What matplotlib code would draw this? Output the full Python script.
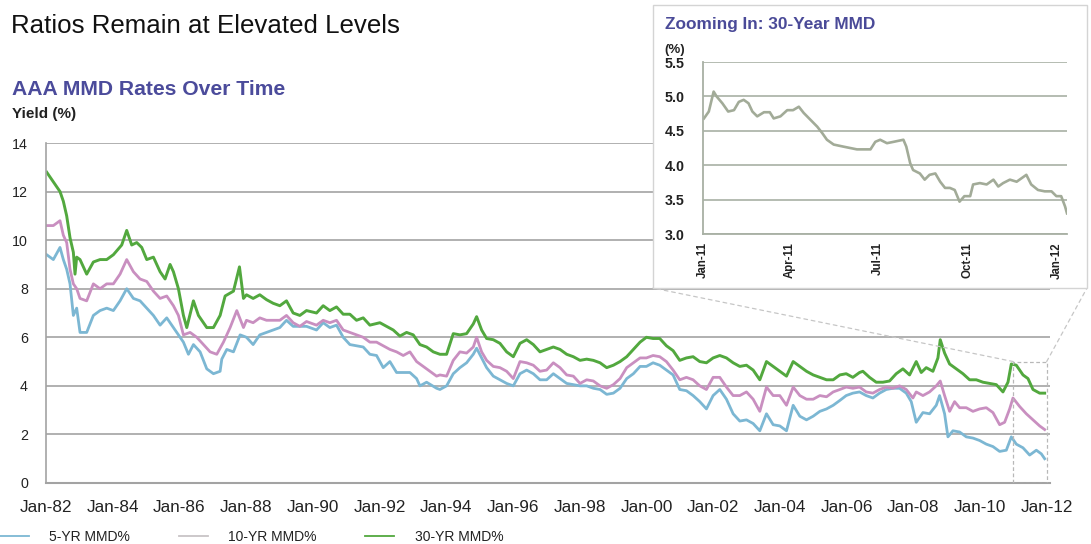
import matplotlib
matplotlib.use("Agg")
import matplotlib.pyplot as plt
from matplotlib.patches import Rectangle, ConnectionPatch
from matplotlib.lines import Line2D

plt.rcParams['font.family'] = ['Liberation Sans', 'DejaVu Sans']

# ---------------- data ----------------
yr30 = [1982.02, 1982.22, 1982.42, 1982.52, 1982.62, 1982.72, 1982.82, 1982.87, 1982.92, 1983.02,
        1983.22, 1983.42, 1983.62, 1983.82, 1984.02, 1984.27, 1984.42, 1984.57, 1984.72, 1984.87,
        1985.02, 1985.22, 1985.42, 1985.57, 1985.72, 1985.82, 1985.97, 1986.12, 1986.22, 1986.42,
        1986.57, 1986.82, 1987.02, 1987.22, 1987.37, 1987.62, 1987.80, 1987.92,
        1988.01, 1988.21, 1988.41, 1988.61, 1988.81, 1989.01, 1989.21, 1989.41, 1989.61, 1989.81,
        1990.11, 1990.31, 1990.51, 1990.71, 1990.91, 1991.11, 1991.31, 1991.51, 1991.71, 1992.01,
        1992.21, 1992.41, 1992.61, 1992.81, 1993.01, 1993.21, 1993.41, 1993.61, 1993.81,
        1994.01, 1994.21, 1994.41, 1994.61, 1994.81, 1994.91, 1995.06, 1995.21, 1995.41, 1995.61,
        1995.81, 1996.01, 1996.21, 1996.41, 1996.61, 1996.81, 1997.01, 1997.21, 1997.41, 1997.61,
        1997.81, 1998.01, 1998.21, 1998.41, 1998.61, 1998.81, 1999.01, 1999.21, 1999.41, 1999.61,
        1999.81, 2000.0, 2000.2, 2000.4, 2000.6, 2000.8, 2001.0, 2001.2, 2001.4, 2001.6, 2001.8,
        2002.0, 2002.2, 2002.4, 2002.6, 2002.8, 2003.0, 2003.2, 2003.4, 2003.6, 2003.8, 2004.0,
        2004.2, 2004.4, 2004.6, 2004.8, 2005.0, 2005.2, 2005.4, 2005.6, 2005.8,
        2005.99, 2006.19, 2006.39, 2006.49, 2006.69, 2006.89, 2007.09, 2007.29, 2007.49, 2007.69,
        2007.89, 2008.09, 2008.24, 2008.39, 2008.59, 2008.74, 2008.81, 2008.94, 2009.09, 2009.29,
        2009.49, 2009.69, 2009.89, 2010.09, 2010.29, 2010.49, 2010.69, 2010.84, 2010.94, 2011.09,
        2011.29, 2011.44, 2011.59, 2011.79, 2011.94]
mmd30 = [12.8, 12.4, 12.0, 11.6, 11.0, 10.1, 9.5, 8.6, 9.3, 9.2,
         8.6, 9.1, 9.2, 9.2, 9.4, 9.8, 10.4, 9.8, 9.9, 9.7,
         9.2, 9.3, 8.7, 8.4, 9.0, 8.7, 8.0, 6.9, 6.4, 7.5,
         6.9, 6.4, 6.4, 6.9, 7.7, 7.9, 8.9, 7.6,
         7.75, 7.6, 7.75, 7.55, 7.4, 7.3, 7.5, 7.0, 6.9, 7.1,
         7.0, 7.3, 7.1, 7.25, 6.95, 6.95, 6.7, 6.8, 6.5, 6.6,
         6.45, 6.3, 6.05, 6.2, 6.1, 5.7, 5.6, 5.4, 5.3,
         5.3, 6.15, 6.1, 6.15, 6.55, 6.85, 6.3, 5.95, 5.9, 5.75,
         5.4, 5.2, 5.75, 5.9, 5.7, 5.4, 5.5, 5.6, 5.5, 5.3,
         5.2, 5.05, 5.1, 5.05, 4.95, 4.75, 4.85, 5.0, 5.2, 5.5,
         5.8, 6.0, 5.95, 5.95, 5.65, 5.45, 5.05, 5.15, 5.2, 5.0, 4.95,
         5.15, 5.25, 5.15, 4.95, 4.8, 4.85, 4.65, 4.25, 5.0, 4.8, 4.6,
         4.4, 5.0, 4.8, 4.6, 4.45, 4.35, 4.25, 4.25, 4.45,
         4.5, 4.35, 4.55, 4.6, 4.35, 4.15, 4.15, 4.2, 4.5, 4.7,
         4.45, 5.0, 4.55, 4.75, 4.6, 5.15, 5.9, 5.35, 4.9, 4.7,
         4.5, 4.25, 4.25, 4.15, 4.1, 4.05, 3.75, 4.15, 4.9, 4.85,
         4.45, 4.3, 3.85, 3.7, 3.7]

yr10 = [1982.02, 1982.22, 1982.42, 1982.52, 1982.62, 1982.72, 1982.82, 1982.92, 1983.02, 1983.22,
        1983.42, 1983.62, 1983.82, 1984.02, 1984.22, 1984.42, 1984.62, 1984.82, 1985.02, 1985.22,
        1985.42, 1985.62, 1985.82, 1985.97, 1986.12, 1986.32, 1986.52, 1986.72, 1986.92, 1987.12,
        1987.32, 1987.52, 1987.72, 1987.92,
        1988.01, 1988.21, 1988.41, 1988.61, 1988.81, 1989.01, 1989.21, 1989.41, 1989.61, 1989.81,
        1990.11, 1990.31, 1990.51, 1990.71, 1990.91, 1991.11, 1991.31, 1991.51, 1991.71, 1991.91,
        1992.11, 1992.31, 1992.51, 1992.71, 1992.91, 1993.11, 1993.31, 1993.51, 1993.71,
        1993.81, 1994.01, 1994.21, 1994.41, 1994.61, 1994.81, 1994.91, 1995.06, 1995.21, 1995.41,
        1995.61, 1995.81, 1996.01, 1996.21, 1996.41, 1996.61, 1996.81, 1997.01, 1997.21, 1997.41,
        1997.61, 1997.81, 1998.01, 1998.21, 1998.41, 1998.61, 1998.81, 1999.01, 1999.21, 1999.41,
        1999.61, 1999.81,
        2000.0, 2000.2, 2000.4, 2000.6, 2000.8, 2001.0, 2001.2, 2001.4, 2001.6, 2001.8,
        2002.0, 2002.2, 2002.4, 2002.6, 2002.8, 2003.0, 2003.2, 2003.4, 2003.6, 2003.8,
        2004.0, 2004.2, 2004.4, 2004.6, 2004.8, 2005.0, 2005.2, 2005.4, 2005.6, 2005.8,
        2005.99, 2006.19, 2006.39, 2006.59, 2006.79, 2006.99, 2007.19, 2007.39, 2007.59, 2007.79,
        2007.99, 2008.09, 2008.29, 2008.49, 2008.69, 2008.81, 2008.94, 2009.09, 2009.24, 2009.39,
        2009.59, 2009.79, 2009.99, 2010.19, 2010.39, 2010.59, 2010.74, 2010.89, 2010.99, 2011.19,
        2011.39, 2011.59, 2011.79, 2011.94]
mmd10 = [10.6, 10.6, 10.8, 10.2, 9.9, 8.8, 8.2, 8.0, 7.6, 7.5,
         8.2, 8.0, 8.2, 8.2, 8.6, 9.2, 8.7, 8.4, 8.3, 7.9,
         7.6, 7.7, 7.3, 6.9, 6.1, 6.2, 6.0, 5.7, 5.4, 5.3,
         5.8, 6.4, 7.1, 6.4,
         6.7, 6.6, 6.8, 6.7, 6.7, 6.7, 6.9, 6.6, 6.45, 6.65,
         6.5, 6.7, 6.6, 6.7, 6.3, 6.2, 6.1, 6.0, 5.8, 5.8,
         5.65, 5.5, 5.4, 5.25, 5.4, 5.0, 4.8, 4.6, 4.4,
         4.45, 4.4, 5.05, 5.4, 5.35, 5.6, 6.0, 5.4, 5.05, 4.8,
         4.75, 4.6, 4.3, 5.0, 4.95, 4.85, 4.6, 4.65, 4.95, 4.75,
         4.45, 4.4, 4.1, 4.25, 4.2, 4.0, 3.9, 4.05, 4.3, 4.75,
         4.95, 5.15,
         5.15, 5.25, 5.2, 5.0, 4.65, 4.25, 4.35, 4.25, 4.0, 3.85,
         4.35, 4.35, 3.95, 3.6, 3.6, 3.75, 3.45, 2.95, 3.95, 3.6,
         3.6, 3.2, 3.95, 3.6, 3.45, 3.45, 3.6, 3.55, 3.75, 3.85,
         3.95, 3.9, 3.95, 3.75, 3.7, 3.85, 3.95, 3.9, 4.0, 3.85,
         3.5, 3.75, 3.6, 3.75, 4.0, 4.2, 3.6, 2.95, 3.35, 3.1,
         3.1, 2.95, 3.05, 3.1, 2.9, 2.4, 2.5, 3.05, 3.5, 3.15,
         2.85, 2.6, 2.35, 2.2]

yr5 = [1982.02, 1982.22, 1982.42, 1982.52, 1982.62, 1982.72, 1982.82, 1982.92, 1983.02, 1983.22,
       1983.42, 1983.62, 1983.82, 1984.02, 1984.22, 1984.42, 1984.62, 1984.82, 1985.02, 1985.22,
       1985.42, 1985.62, 1985.82, 1985.97, 1986.12, 1986.27, 1986.42, 1986.62, 1986.82, 1987.02,
       1987.22, 1987.27, 1987.42, 1987.62, 1987.82,
       1988.01, 1988.21, 1988.41, 1988.61, 1988.81, 1989.01, 1989.21, 1989.41, 1989.61, 1989.81,
       1990.11, 1990.31, 1990.51, 1990.71, 1990.91, 1991.11, 1991.31, 1991.51, 1991.71, 1991.91,
       1992.11, 1992.31, 1992.51, 1992.71, 1992.91, 1993.11, 1993.21, 1993.41, 1993.71,
       1993.81, 1994.01, 1994.21, 1994.41, 1994.61, 1994.81, 1994.91, 1995.06, 1995.21, 1995.41,
       1995.61, 1995.81, 1996.01, 1996.21, 1996.41, 1996.61, 1996.81, 1997.01, 1997.21, 1997.41,
       1997.61, 1997.81, 1998.01, 1998.21, 1998.41, 1998.61, 1998.81, 1999.01, 1999.21, 1999.41,
       1999.61, 1999.81,
       2000.0, 2000.2, 2000.4, 2000.6, 2000.8, 2001.0, 2001.2, 2001.4, 2001.6, 2001.8,
       2002.0, 2002.2, 2002.4, 2002.6, 2002.8, 2003.0, 2003.2, 2003.4, 2003.6, 2003.8,
       2004.0, 2004.2, 2004.4, 2004.6, 2004.8, 2005.0, 2005.2, 2005.4, 2005.6, 2005.8,
       2005.99, 2006.19, 2006.39, 2006.59, 2006.79, 2006.99, 2007.19, 2007.39, 2007.59, 2007.79,
       2007.94, 2008.09, 2008.29, 2008.49, 2008.69, 2008.79, 2008.94, 2009.04, 2009.19, 2009.39,
       2009.59, 2009.79, 2009.99, 2010.19, 2010.39, 2010.59, 2010.79, 2010.94, 2011.09, 2011.29,
       2011.49, 2011.69, 2011.84, 2011.94]
mmd5 = [9.4, 9.2, 9.7, 9.2, 8.8, 8.2, 6.9, 7.2, 6.2, 6.2,
        6.9, 7.1, 7.2, 7.1, 7.5, 8.0, 7.6, 7.5, 7.2, 6.9,
        6.5, 6.8, 6.4, 6.1, 5.8, 5.3, 5.7, 5.4, 4.7, 4.5,
        4.6, 5.1, 5.5, 5.4, 6.1,
        6.0, 5.7, 6.1, 6.2, 6.3, 6.4, 6.7, 6.45, 6.45, 6.45,
        6.3, 6.6, 6.4, 6.5, 6.0, 5.7, 5.65, 5.6, 5.3, 5.25,
        4.75, 5.0, 4.55, 4.55, 4.55, 4.3, 4.0, 4.15, 3.9,
        3.85, 4.0, 4.5, 4.75, 4.95, 5.3, 5.55, 5.15, 4.75, 4.4,
        4.25, 4.1, 4.0, 4.5, 4.65, 4.5, 4.25, 4.25, 4.5, 4.3,
        4.1, 4.05, 4.0, 4.0, 3.9, 3.85, 3.65, 3.7, 3.9, 4.3,
        4.5, 4.8,
        4.8, 4.95, 4.85, 4.65, 4.45, 3.85, 3.8, 3.6, 3.35, 3.05,
        3.6, 3.85, 3.45, 2.85, 2.55, 2.6, 2.45, 2.15, 2.85, 2.4,
        2.35, 2.15, 3.2, 2.75, 2.6, 2.75, 2.95, 3.05, 3.2, 3.4,
        3.6, 3.7, 3.75, 3.6, 3.5, 3.7, 3.85, 3.9, 3.9, 3.7,
        3.35, 2.5, 2.9, 2.85, 3.2, 3.6, 2.85, 1.9, 2.15, 2.1,
        1.9, 1.85, 1.75, 1.6, 1.5, 1.3, 1.35, 1.9, 1.6, 1.45,
        1.15, 1.35, 1.2, 1.0]

tick_years = list(range(1982, 2013, 2))
tick_labels = ["Jan-%02d" % (y % 100) for y in tick_years]
y_ticks = [0, 2, 4, 6, 8, 10, 12, 14]

# inset: 30-year MMD during 2011 (days since Jan 1, 2011)
inset_days = [1, 6, 11, 14, 20, 26, 32, 37, 42, 47, 51, 56, 63, 69, 73, 80, 87, 93, 99, 104,
              111, 118, 123, 128, 135, 145, 152, 159, 173, 178, 183, 190, 197, 207, 210, 214,
              217, 224, 229, 234, 240, 245, 250, 255, 260, 265, 270, 276, 279, 286, 293, 300,
              305, 310, 317, 324, 329, 334, 339, 346, 353, 360, 365, 370, 374, 376]
inset_vals = [4.68, 4.78, 5.07, 5.0, 4.9, 4.78, 4.8, 4.92, 4.95, 4.9, 4.78, 4.71, 4.77, 4.77,
              4.68, 4.71, 4.8, 4.8, 4.85, 4.76, 4.66, 4.56, 4.47, 4.37, 4.3, 4.27, 4.25, 4.23,
              4.23, 4.34, 4.37, 4.32, 4.34, 4.37, 4.27, 4.03, 3.93, 3.88, 3.79, 3.86, 3.88,
              3.76, 3.67, 3.67, 3.64, 3.47, 3.55, 3.55, 3.72, 3.74, 3.72, 3.79, 3.69, 3.74,
              3.79, 3.76, 3.81, 3.86, 3.72, 3.64, 3.62, 3.62, 3.55, 3.55, 3.4, 3.3]
inset_tick_days = [0, 90, 181, 273, 365]
inset_tick_labels = ["Jan-11", "Apr-11", "Jul-11", "Oct-11", "Jan-12"]
inset_y_ticks = [3.0, 3.5, 4.0, 4.5, 5.0, 5.5]

# ---------------- styling ----------------
W, H = 1091, 544
fig = plt.figure(figsize=(W / 100, H / 100), dpi=100)

def fx(px):
    return px / W

def fy(py):
    return 1 - py / H

c5, c10, c30 = '#7cb7d3', '#c98fc0', '#52a83e'
grid_c = '#a3a3a3'

ax = fig.add_axes([fx(46), fy(483), fx(1050) - fx(46), fy(143) - fy(483)], zorder=0)
ax.plot(yr5, mmd5, color=c5, lw=2.0, solid_joinstyle='round')
ax.plot(yr10, mmd10, color=c10, lw=2.0, solid_joinstyle='round')
ax.plot(yr30, mmd30, color=c30, lw=2.1, solid_joinstyle='round')
ax.set_xlim(1982, 2012.1)
ax.set_ylim(0, 14)
ax.set_yticks(y_ticks)
ax.set_yticklabels([str(v) for v in y_ticks], fontsize=10.3, color='#222222')
ax.set_xticks(tick_years)
ax.set_xticklabels(tick_labels, fontsize=12.3, color='#222222')
ax.tick_params(axis='both', length=0)
ax.tick_params(axis='y', pad=13)
ax.tick_params(axis='x', pad=12)
ax.yaxis.grid(True, color=grid_c, lw=1.2)
ax.set_axisbelow(True)
for s in ('top', 'right'):
    ax.spines[s].set_visible(False)
ax.spines['left'].set_color(grid_c)
ax.spines['left'].set_linewidth(1.2)
ax.spines['bottom'].set_color(grid_c)
ax.spines['bottom'].set_linewidth(1.5)

# zoom rectangle for 2011
ax.add_patch(Rectangle((2011, 0), 1.0, 5.0, fill=False, edgecolor='#b8b8b8',
                       lw=0.9, ls=(0, (3, 2)), zorder=3))

# inset frame (white box over main chart)
bx0, by0, bx1, by1 = 653, 288, 1087, 5
fig.add_artist(Rectangle((fx(bx0), fy(by0)), fx(bx1) - fx(bx0), fy(by1) - fy(by0),
                         transform=fig.transFigure, facecolor='white',
                         edgecolor='#d4d4d4', lw=1.0, zorder=1))

for xd, bxp in ((2011, bx0), (2012, bx1)):
    con = ConnectionPatch(xyA=(xd, 5.0), coordsA=ax.transData,
                          xyB=(fx(bxp), fy(by0)), coordsB=fig.transFigure,
                          color='#c6c6c6', lw=0.9, ls=(0, (3, 3)), zorder=0.5)
    fig.add_artist(con)

# inset axes
iax = fig.add_axes([fx(703), fy(234), fx(1067) - fx(703), fy(62) - fy(234)], zorder=2)
iax.set_facecolor('white')
iax.plot(inset_days, inset_vals, color='#a2ab98', lw=1.9)
iax.set_xlim(0, 376)
iax.set_ylim(3.0, 5.5)
iax.set_yticks(inset_y_ticks)
iax.set_yticklabels(["%.1f" % v for v in inset_y_ticks], fontsize=10.3, fontweight='bold',
                    color='#222222')
iax.set_xticks(inset_tick_days)
iax.set_xticklabels(inset_tick_labels, rotation=90, fontsize=8.3, fontweight='bold',
                    color='#222222', va='top')
iax.tick_params(axis='both', length=0)
iax.tick_params(axis='y', pad=13)
iax.tick_params(axis='x', pad=6)
iax.yaxis.grid(True, color='#a8b0a4', lw=1.2)
iax.set_axisbelow(True)
for s in ('top', 'right'):
    iax.spines[s].set_visible(False)
for s in ('left', 'bottom'):
    iax.spines[s].set_color('#a8b0a4')
    iax.spines[s].set_linewidth(1.3)

fig.text(fx(665), fy(29), "Zooming In: 30-Year MMD", fontsize=12.4, fontweight='bold',
         color='#4a4a98', ha='left', va='baseline', zorder=3)
fig.text(fx(664), fy(53), "(%)", fontsize=9.5, fontweight='bold', color='#222222',
         ha='left', va='baseline', zorder=3)

# titles
fig.text(fx(11), fy(33), "Ratios Remain at Elevated Levels", fontsize=18.6, color='#111111',
         ha='left', va='baseline')
fig.text(fx(12), fy(95), "AAA MMD Rates Over Time", fontsize=15.2, fontweight='bold',
         color='#4b4b9b', ha='left', va='baseline')
fig.text(fx(12), fy(118), "Yield (%)", fontsize=11, fontweight='bold', color='#222222',
         ha='left', va='baseline')

# legend
handles = [Line2D([], [], color=c5, lw=1.3),
           Line2D([], [], color='#c8c4c6', lw=1.3),
           Line2D([], [], color=c30, lw=1.3)]
fig.legend(handles, ["5-YR MMD%", "10-YR MMD%", "30-YR MMD%"], loc='center left',
           bbox_to_anchor=(0.0, fy(537)), ncol=3, frameon=False, fontsize=10,
           handlelength=2.1, handletextpad=1.45, columnspacing=3.5, borderaxespad=0,
           borderpad=0, labelcolor='#222222')

fig.savefig("out.png", dpi=100)
